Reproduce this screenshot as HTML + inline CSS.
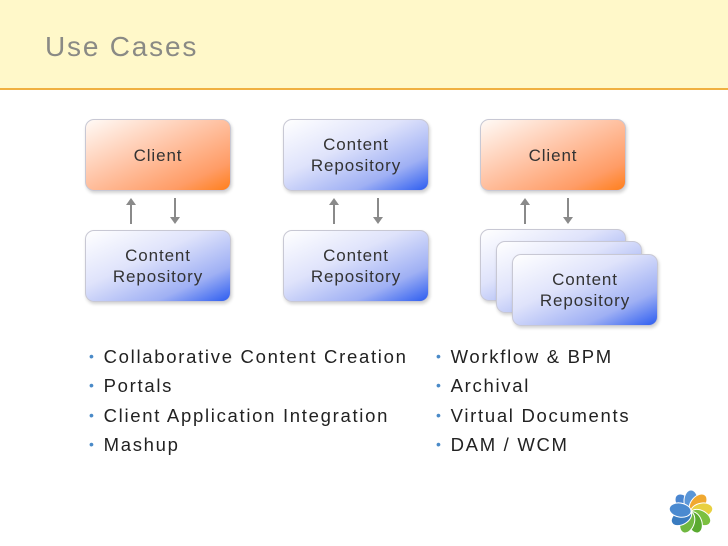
<!DOCTYPE html>
<html><head><style>
body{margin:0;width:728px;height:546px;background:#fff;position:relative;overflow:hidden;font-family:"Liberation Sans",sans-serif}
.hdr{position:absolute;left:0;top:0;width:728px;height:88px;background:#fff8c9;border-bottom:2px solid #f0b040}
.title{position:absolute;left:45px;top:31px;font-size:28px;color:#8a8a85;letter-spacing:1.8px}
.box{position:absolute;width:146px;height:72px;border-radius:9px;border:1px solid #c8c8d4;box-shadow:1px 2px 3px rgba(0,0,0,0.18);display:flex;align-items:center;justify-content:center;text-align:center;font-size:17px;line-height:21px;color:#333;box-sizing:border-box;letter-spacing:0.9px}
.o{background:linear-gradient(155deg,#fffaf6 0%,#ffc4a6 45%,#ff9c66 80%,#ff7f1c 100%)}
.b{background:linear-gradient(155deg,#ffffff 0%,#dfe3fb 40%,#9fb0f4 75%,#2d5df0 100%)}
.ar{position:absolute;width:2px;height:20px;background:#8a8a8a}
.up:before,.dn:after{content:"";position:absolute;left:-4px;border-left:5px solid transparent;border-right:5px solid transparent}
.up:before{top:-6px;border-bottom:7px solid #8a8a8a}
.dn:after{bottom:-6px;border-top:7px solid #8a8a8a}
.li{position:absolute;font-size:18.5px;color:#222;letter-spacing:1.7px}
.li span{color:#4a8ac8;font-size:14px;margin-right:8px;position:relative;top:-2px}
</style></head><body>
<div class="hdr"></div>
<div class="title">Use Cases</div>

<div class="box o" style="left:85px;top:119px">Client</div>
<div class="box b" style="left:85px;top:230px">Content<br>Repository</div>
<div class="ar up" style="left:130px;top:204px"></div>
<div class="ar dn" style="left:174px;top:198px"></div>

<div class="box b" style="left:283px;top:119px">Content<br>Repository</div>
<div class="box b" style="left:283px;top:230px">Content<br>Repository</div>
<div class="ar up" style="left:333px;top:204px"></div>
<div class="ar dn" style="left:377px;top:198px"></div>

<div class="box o" style="left:480px;top:119px">Client</div>
<div class="ar up" style="left:524px;top:204px"></div>
<div class="ar dn" style="left:567px;top:198px"></div>
<div class="box b" style="left:480px;top:229px"></div>
<div class="box b" style="left:496px;top:241px"></div>
<div class="box b" style="left:512px;top:254px">Content<br>Repository</div>

<div class="li" style="left:89px;top:346px"><span>•</span>Collaborative Content Creation</div>
<div class="li" style="left:89px;top:375px"><span>•</span>Portals</div>
<div class="li" style="left:89px;top:405px"><span>•</span>Client Application Integration</div>
<div class="li" style="left:89px;top:434px"><span>•</span>Mashup</div>
<div class="li" style="left:436px;top:346px"><span>•</span>Workflow &amp; BPM</div>
<div class="li" style="left:436px;top:375px"><span>•</span>Archival</div>
<div class="li" style="left:436px;top:405px"><span>•</span>Virtual Documents</div>
<div class="li" style="left:436px;top:434px"><span>•</span>DAM / WCM</div>

<svg style="position:absolute;left:666px;top:487px" width="50" height="50" viewBox="-25 -25 50 50">
<g stroke="#fff" stroke-width="1">
<ellipse cx="0" cy="-11" rx="7" ry="11" fill="#4a86d0" transform="rotate(-40)"/>
<ellipse cx="0" cy="-11" rx="7" ry="11" fill="#3a78c8" transform="rotate(-80)"/>
<ellipse cx="0" cy="-11" rx="7" ry="11" fill="#5a96d8" transform="rotate(0)"/>
<ellipse cx="0" cy="-11" rx="7" ry="11" fill="#f0a830" transform="rotate(40)"/>
<ellipse cx="0" cy="-11" rx="7" ry="11" fill="#e8d040" transform="rotate(80)"/>
<ellipse cx="0" cy="-11" rx="7" ry="11" fill="#7cc040" transform="rotate(120)"/>
<ellipse cx="0" cy="-11" rx="7" ry="11" fill="#5aaa30" transform="rotate(160)"/>
<ellipse cx="0" cy="-11" rx="7" ry="11" fill="#70b840" transform="rotate(200)"/>
<ellipse cx="0" cy="-11" rx="7" ry="11" fill="#3a7cc0" transform="rotate(240)"/>
<ellipse cx="0" cy="-11" rx="7" ry="11" fill="#4a8ad0" transform="rotate(280)"/>
</g></svg>
</body></html>
